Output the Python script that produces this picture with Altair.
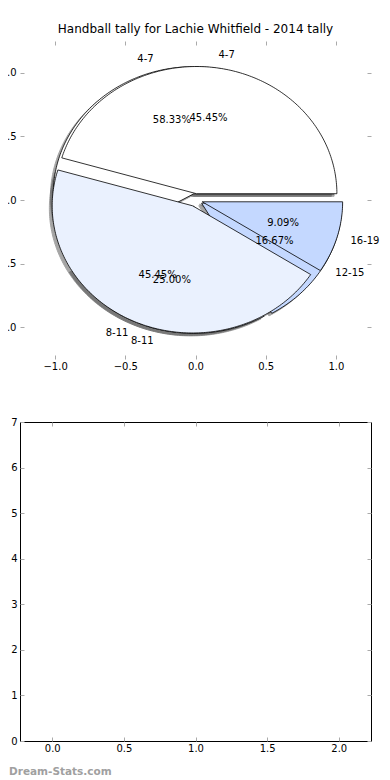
import altair as alt
import numpy as np
import pandas as pd

TITLE = "Handball tally for Lachie Whitfield - 2014 tally"
WATERMARK = "Dream-Stats.com"

pie1_labels = ["4-7", "8-11", "12-15"]
pie1_values = [7, 3, 2]
pie2_labels = ["4-7", "8-11", "16-19"]
pie2_values = [5, 5, 1]
slice_colors = {"4-7": "#FFFFFF", "8-11": "#EAF1FE", "12-15": "#C4D8FF", "16-19": "#C4D8FF"}

pie_ticks = [-1.0, -0.5, 0.0, 0.5, 1.0]
lower_x_ticks = [0.0, 0.5, 1.0, 1.5, 2.0]
lower_y_ticks = [0, 1, 2, 3, 4, 5, 6, 7]

EXPLODE = 0.05
SHADOW = -0.02
LABEL_DIST = 1.1
PCT_DIST = 0.6
FONT = "DejaVu Sans"


def build(pie_id, labels, values):
    total = float(sum(values))
    poly, txt = [], []
    t1 = 0.0
    for k, (lab, v) in enumerate(zip(labels, values)):
        frac = v / total
        t2 = t1 + 360.0 * frac
        tm = np.radians(0.5 * (t1 + t2))
        cx, cy = EXPLODE * np.cos(tm), EXPLODE * np.sin(tm)
        n = int(np.ceil(t2 - t1)) + 1
        angs = np.radians(np.linspace(t1, t2, n))
        xs = np.concatenate([[cx], cx + np.cos(angs)])
        ys = np.concatenate([[cy], cy + np.sin(angs)])
        for i, (px, py) in enumerate(zip(xs, ys)):
            poly.append({"wedge": f"{pie_id}-{k}", "i": i, "x": float(px), "y": float(py),
                         "fill": slice_colors[lab]})
        lx = cx + LABEL_DIST * np.cos(tm)
        ly = cy + LABEL_DIST * np.sin(tm)
        txt.append({"x": float(lx), "y": float(ly), "text": lab, "align": "left" if lx > 0 else "right"})
        txt.append({"x": float(cx + PCT_DIST * np.cos(tm)), "y": float(cy + PCT_DIST * np.sin(tm)),
                    "text": f"{100 * frac:.2f}%", "align": "center"})
        t1 = t2
    return pd.DataFrame(poly), pd.DataFrame(txt)


poly1, txt1 = build(1, pie1_labels, pie1_values)
poly2, txt2 = build(2, pie2_labels, pie2_values)
poly_all = pd.concat([poly1, poly2], ignore_index=True)
txt_all = pd.concat([txt1, txt2], ignore_index=True)

xs = alt.Scale(domain=[-1.25, 1.25], nice=False, zero=False)
ys = alt.Scale(domain=[-1.25, 1.25], nice=False, zero=False)

axis_style = dict(tickColor="#aaaaaa", tickSize=4, domain=False, grid=False, offset=-4,
                  labelFont=FONT, labelFontSize=10, labelColor="#000000")

x_main = alt.Axis(orient="bottom", values=pie_ticks, format=".1f", labelPadding=2, **axis_style)
y_main = alt.Axis(orient="left", values=pie_ticks, format=".1f", labelPadding=4, **axis_style)
x_top = alt.Axis(orient="top", values=pie_ticks, labels=False, **axis_style)
y_right = alt.Axis(orient="right", values=pie_ticks, labels=False, **axis_style)

shadow = alt.Chart(poly_all).mark_line(
    interpolate="linear-closed", fill="#4d4d4d", stroke="#4d4d4d", strokeWidth=1, opacity=0.5
).transform_calculate(sx=f"datum.x + ({SHADOW})", sy=f"datum.y + ({SHADOW})").encode(
    x=alt.X("sx:Q", scale=xs, axis=None),
    y=alt.Y("sy:Q", scale=ys, axis=None),
    detail="wedge:N",
    order="i:Q",
)


def wedge_layer(df, axes=False):
    return alt.Chart(df).mark_line(
        interpolate="linear-closed", stroke="#000000", strokeWidth=0.8
    ).encode(
        x=alt.X("x:Q", scale=xs, axis=x_main if axes else None, title=None),
        y=alt.Y("y:Q", scale=ys, axis=y_main if axes else None, title=None),
        fill=alt.Fill("fill:N", scale=None),
        detail="wedge:N",
        order="i:Q",
    )


def text_layer(align):
    return alt.Chart(txt_all).transform_filter(alt.datum.align == align).mark_text(
        align=align, baseline="middle", font=FONT, fontSize=10, color="#000000"
    ).encode(
        x=alt.X("x:Q", scale=xs, axis=None),
        y=alt.Y("y:Q", scale=ys, axis=None),
        text="text:N",
    )


tick_layer = alt.Chart(pd.DataFrame({"x": pie_ticks, "y": pie_ticks})).mark_point(opacity=0).encode(
    x=alt.X("x:Q", scale=xs, axis=x_top, title=None),
    y=alt.Y("y:Q", scale=ys, axis=y_right, title=None),
)

top = alt.layer(
    shadow,
    wedge_layer(poly1, axes=True),
    wedge_layer(poly2),
    text_layer("left"),
    text_layer("right"),
    text_layer("center"),
    tick_layer,
).resolve_axis(x="independent", y="independent").properties(
    width=351,
    height=318,
    title=alt.TitleParams(TITLE, font=FONT, fontSize=12, fontWeight="normal", color="#000000",
                          offset=5, anchor="middle", frame="group"),
    view=alt.ViewBackground(stroke="transparent"),
)

# lower (empty) panel
lxs = alt.Scale(domain=[-0.225, 2.225], nice=False, zero=False)
lys = alt.Scale(domain=[0, 7], nice=False, zero=False)
lower_df = pd.DataFrame({"x": lower_x_ticks[:1] * len(lower_y_ticks), "y": lower_y_ticks})

lower_axes = alt.Chart(lower_df).mark_point(opacity=0).encode(
    x=alt.X("x:Q", scale=lxs, title=None,
            axis=alt.Axis(orient="bottom", values=lower_x_ticks, format=".1f", labelPadding=2, **axis_style)),
    y=alt.Y("y:Q", scale=lys, title=None,
            axis=alt.Axis(orient="left", values=lower_y_ticks, format="d", labelPadding=3, **axis_style)),
)
lower_ticks = alt.Chart(lower_df).mark_point(opacity=0).encode(
    x=alt.X("x:Q", scale=lxs, title=None,
            axis=alt.Axis(orient="top", values=lower_x_ticks, labels=False, **axis_style)),
    y=alt.Y("y:Q", scale=lys, title=None,
            axis=alt.Axis(orient="right", values=lower_y_ticks, labels=False, **axis_style)),
)
watermark = alt.Chart(pd.DataFrame({"t": [WATERMARK]})).mark_text(
    align="left", baseline="middle", font=FONT, fontSize=10.5, fontWeight="bold", color="#a0a0a0"
).encode(x=alt.value(-11), y=alt.value(350), text="t:N")

bottom = alt.layer(lower_axes, lower_ticks, watermark).resolve_axis(
    x="independent", y="independent"
).properties(
    width=351,
    height=319,
    view=alt.ViewBackground(stroke="#000000", strokeWidth=1),
)

chart = alt.vconcat(top, bottom, spacing=44).properties(
    padding={"left": -17, "top": 14, "right": 0, "bottom": 0}
).configure_view(strokeWidth=1)

chart.save("out.html", embed_options={"renderer": "svg", "actions": False})
